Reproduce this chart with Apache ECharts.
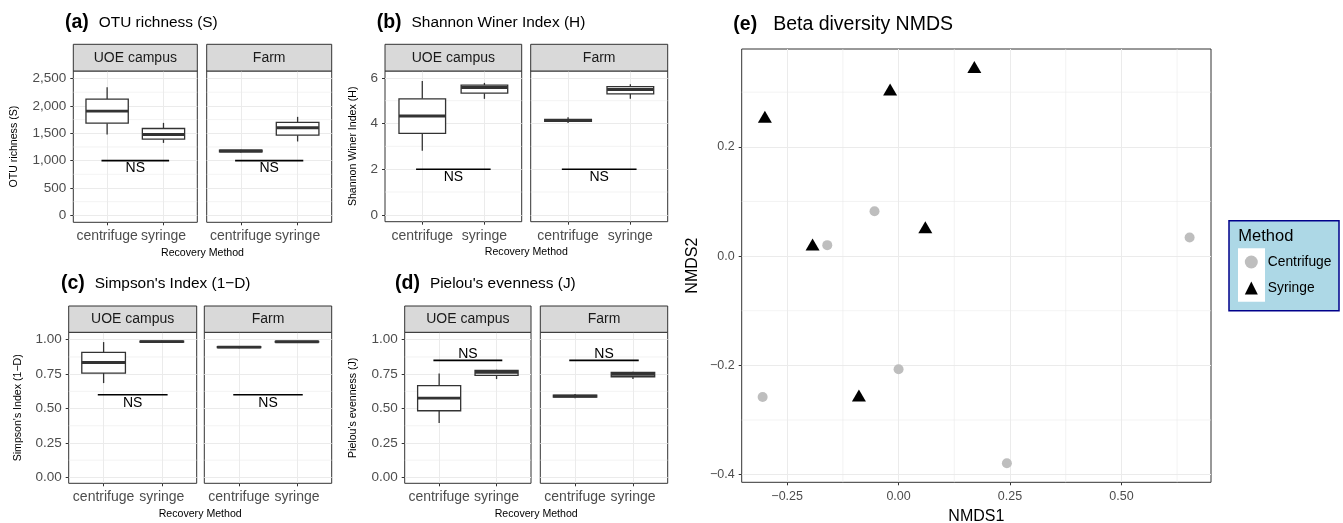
<!DOCTYPE html>
<html>
<head>
<meta charset="utf-8">
<script src="https://cdn.jsdelivr.net/npm/echarts@6/dist/echarts.min.js"></script>
<style>
  html, body { margin: 0; padding: 0; background: #fff; }
  #chart { width: 1343px; height: 523px; }
</style>
</head>
<body>
<div id="chart"></div>
<script>
// ---- data ----
const methods = ['centrifuge', 'syringe'];
const sites = ['UOE campus', 'Farm'];

// five-number summaries [min, q1, median, q3, max], one row per method
const otuCampus = [[1478, 1685, 1905, 2125, 2339], [1324, 1392, 1478, 1587, 1690]];
const otuFarm = [[1150, 1160, 1175, 1190, 1200], [1350, 1465, 1600, 1698, 1800]];
const shannonCampus = [[2.81, 3.57, 4.33, 5.08, 5.86], [5.08, 5.33, 5.58, 5.68, 5.78]];
const shannonFarm = [[4.02, 4.09, 4.13, 4.18, 4.27], [5.08, 5.30, 5.49, 5.62, 5.72]];
const simpsonCampus = [[0.685, 0.758, 0.835, 0.908, 0.983], [0.978, 0.982, 0.986, 0.990, 0.993]];
const simpsonFarm = [[0.938, 0.942, 0.946, 0.950, 0.954], [0.978, 0.982, 0.985, 0.988, 0.991]];
const pielouCampus = [[0.395, 0.484, 0.576, 0.666, 0.755], [0.714, 0.741, 0.763, 0.777, 0.782]];
const pielouFarm = [[0.575, 0.583, 0.590, 0.597, 0.605], [0.714, 0.731, 0.748, 0.763, 0.768]];

// "NS" bracket level for each panel
const nsLevels = [1000, 2, 0.6, 0.85];

// NMDS scores [NMDS1, NMDS2]
const nmdsCentrifuge = [[-0.160, 0.020], [-0.054, 0.082], [0.000, -0.207], [-0.305, -0.258], [0.243, -0.379], [0.653, 0.034]];
const nmdsSyringe = [[-0.300, 0.255], [-0.019, 0.305], [0.170, 0.346], [-0.193, 0.021], [0.060, 0.053], [-0.089, -0.255]];

// tick labels / grid breaks
const otuTicks = [0, 500, 1000, 1500, 2000, 2500];
const otuMinor = [250, 750, 1250, 1750, 2250];
const shannonTicks = [0, 2, 4, 6];
const shannonMinor = [1, 3, 5];
const unitTicks = [0, 0.25, 0.5, 0.75, 1];
const unitMinor = [0.125, 0.375, 0.625, 0.875];
const nmdsXTicks = [-0.25, 0, 0.25, 0.5];
const nmdsXMinor = [-0.125, 0.125, 0.375, 0.625];
const nmdsYTicks = [-0.4, -0.2, 0, 0.2];
const nmdsYMinor = [-0.3, -0.1, 0.1, 0.3];

// ---- layout ----
const FONT = '"Liberation Sans", Arial, Helvetica, sans-serif';
const DARK = '#333333';
const GRID = '#EBEBEB';
const TICK_TXT = '#4D4D4D';

const comma = v => String(v).replace(/\B(?=(\d{3})+(?!\d))/g, ',');
const minus = s => s.replace('-', '\u2212');

const boxPanels = [
  { tag: '(a)', title: 'OTU richness (S)', yName: 'OTU richness (S)', data: [otuCampus, otuFarm],
    ns: nsLevels[0], nsAbove: false, ticks: otuTicks, minor: otuMinor, min: -127, max: 2638, fmt: comma,
    cols: [[73.3, 197.3], [206.7, 331.7]], stripTop: 44.3, top: 71, bottom: 222.3,
    tagPos: [65, 22.5], xTitle: [202.5, 253.3], nameGap: 54, gap: 10 },
  { tag: '(b)', title: 'Shannon Winer Index (H)', yName: 'Shannon Winer Index (H)', data: [shannonCampus, shannonFarm],
    ns: nsLevels[1], nsAbove: false, ticks: shannonTicks, minor: shannonMinor, min: -0.3, max: 6.3, fmt: v => String(v),
    cols: [[385, 521.7], [530.7, 667.7]], stripTop: 44.3, top: 71, bottom: 221.7,
    tagPos: [376.7, 22.7], xTitle: [526.3, 252.3], nameGap: 26, gap: 10 },
  { tag: '(c)', title: 'Simpson\'s Index (1\u2212D)', yName: 'Simpson\'s Index (1\u2212D)', data: [simpsonCampus, simpsonFarm],
    ns: nsLevels[2], nsAbove: false, ticks: unitTicks, minor: unitMinor, min: -0.043, max: 1.054, fmt: v => v.toFixed(2),
    cols: [[68.7, 196.7], [204.3, 331.7]], stripTop: 306, top: 332.3, bottom: 483.3,
    tagPos: [61, 283.3], xTitle: [200.2, 514.3], nameGap: 45, gap: 10 },
  { tag: '(d)', title: 'Pielou\'s evenness (J)', yName: 'Pielou\'s evenness (J)', data: [pielouCampus, pielouFarm],
    ns: nsLevels[3], nsAbove: true, ticks: unitTicks, minor: unitMinor, min: -0.043, max: 1.054, fmt: v => v.toFixed(2),
    cols: [[404.7, 531], [540.3, 667.7]], stripTop: 306, top: 332.3, bottom: 483.3,
    tagPos: [395, 283.3], xTitle: [536.2, 514.3], nameGap: 46, gap: 10 }
];

function titleItem(tag, text, left, cy, tagSize, textSize, gap) {
  return {
    left: left, top: cy - 12, padding: 0,
    text: '{t|' + tag + '}{n|' + text + '}',
    textStyle: {
      fontWeight: 'normal',
      rich: {
        t: { fontFamily: FONT, fontWeight: 'bold', fontSize: tagSize, lineHeight: 24, color: '#000', padding: [0, gap, 0, 0] },
        n: { fontFamily: FONT, fontWeight: 'normal', fontSize: textSize, lineHeight: 24, color: '#000' }
      }
    }
  };
}

function renderHLine(params, api) {
  const cs = params.coordSys;
  const y = api.coord([api.value(0), api.value(1)])[1];
  return { type: 'line', silent: true, shape: { x1: cs.x, y1: y, x2: cs.x + cs.width, y2: y },
    style: { stroke: GRID, lineWidth: 0.6 } };
}
function renderVLine(params, api) {
  const cs = params.coordSys;
  const x = api.coord([api.value(0), api.value(1)])[0];
  return { type: 'line', silent: true, shape: { x1: x, y1: cs.y, x2: x, y2: cs.y + cs.height },
    style: { stroke: GRID, lineWidth: 0.6 } };
}

function renderBox(params, api) {
  const x = api.value(0);
  const half = 0.375;
  const lo = api.coord([x - half, api.value(2)]);
  const hi = api.coord([x + half, api.value(4)]);
  const wMin = api.coord([x, api.value(1)]);
  const wMax = api.coord([x, api.value(5)]);
  const mL = api.coord([x - half, api.value(3)]);
  const mR = api.coord([x + half, api.value(3)]);
  const s = { stroke: DARK, lineWidth: 1.3 };
  return {
    type: 'group',
    children: [
      { type: 'line', shape: { x1: wMin[0], y1: wMin[1], x2: wMin[0], y2: lo[1] }, style: s },
      { type: 'line', shape: { x1: wMax[0], y1: hi[1], x2: wMax[0], y2: wMax[1] }, style: s },
      { type: 'rect', shape: { x: lo[0], y: hi[1], width: hi[0] - lo[0], height: lo[1] - hi[1] },
        style: { fill: '#fff', stroke: DARK, lineWidth: 1.3 } },
      { type: 'line', shape: { x1: mL[0], y1: mL[1], x2: mR[0], y2: mR[1] }, style: { stroke: DARK, lineWidth: 2.9 } }
    ]
  };
}

function renderNs(params, api) {
  const a = api.coord([api.value(0), api.value(2)]);
  const b = api.coord([api.value(1), api.value(2)]);
  const above = api.value(3) === 1;
  return {
    type: 'group',
    children: [
      { type: 'line', shape: { x1: a[0], y1: a[1], x2: b[0], y2: b[1] }, style: { stroke: '#000', lineWidth: 1.6 } },
      { type: 'text', x: (a[0] + b[0]) / 2, y: a[1] + 1,
        style: { text: 'NS', fill: '#000', font: '14px ' + FONT, align: 'center', verticalAlign: above ? 'bottom' : 'top' } }
    ]
  };
}

const grids = [], xAxes = [], yAxes = [], series = [], titles = [], graphics = [];

boxPanels.forEach(p => {
  titles.push(titleItem(p.tag, p.title, p.tagPos[0], p.tagPos[1], 19.5, 15.4, p.gap));
  titles.push({ text: 'Recovery Method', left: p.xTitle[0], top: p.xTitle[1], textAlign: 'center', textVerticalAlign: 'middle',
    padding: 0, textStyle: { fontFamily: FONT, fontSize: 10.6, fontWeight: 'normal', color: '#000' } });

  sites.forEach((site, f) => {
    const gi = grids.length;
    const x0 = p.cols[f][0], x1 = p.cols[f][1];
    grids.push({ left: x0, top: p.top, width: x1 - x0, height: p.bottom - p.top, outerBoundsMode: 'none',
      show: true, borderColor: DARK, borderWidth: 1, backgroundColor: '#fff' });
    xAxes.push({
      gridIndex: gi, type: 'value', min: 0.4, max: 2.6, position: 'bottom',
      axisLine: { show: false, onZero: false },
      axisTick: { show: true, customValues: [1, 2], length: 3, lineStyle: { color: DARK } },
      axisLabel: { customValues: [1, 2], formatter: v => methods[Math.round(v) - 1], margin: 7,
        fontFamily: FONT, fontSize: 14, color: TICK_TXT },
      splitLine: { show: true, lineStyle: { color: GRID, width: 1 } }
    });
    yAxes.push({
      gridIndex: gi, type: 'value', min: p.min, max: p.max, position: 'left',
      name: f === 0 ? p.yName : '', nameLocation: 'middle', nameRotate: 90, nameGap: p.nameGap,
      nameTextStyle: { fontFamily: FONT, fontSize: 10.6, color: '#000' },
      axisLine: { show: false, onZero: false },
      axisTick: { show: f === 0, customValues: p.ticks, length: 3, lineStyle: { color: DARK } },
      axisLabel: { show: f === 0, customValues: p.ticks, formatter: p.fmt, margin: 7,
        fontFamily: FONT, fontSize: 13.5, color: TICK_TXT },
      splitLine: { show: true, lineStyle: { color: GRID, width: 1 } }
    });
    series.push({ type: 'custom', xAxisIndex: gi, yAxisIndex: gi, z: 1, silent: true,
      renderItem: renderHLine, encode: { x: 0, y: 1 }, data: p.minor.map(v => [1, v]) });
    series.push({ type: 'custom', xAxisIndex: gi, yAxisIndex: gi, z: 3, silent: true,
      renderItem: renderBox, encode: { x: 0, y: [1, 2, 3, 4, 5] },
      data: p.data[f].map((s, i) => [i + 1].concat(s)) });
    series.push({ type: 'custom', xAxisIndex: gi, yAxisIndex: gi, z: 4, silent: true,
      renderItem: renderNs, encode: { x: [0, 1], y: 2 },
      data: [[0.9, 2.1, p.ns, p.nsAbove ? 1 : 0]] });

    graphics.push({ type: 'rect', z: 10, shape: { x: x0, y: p.stripTop, width: x1 - x0, height: p.top - p.stripTop },
      style: { fill: '#D9D9D9', stroke: DARK, lineWidth: 1 } });
    graphics.push({ type: 'text', z: 11, x: (x0 + x1) / 2, y: (p.stripTop + p.top) / 2,
      style: { text: site, fill: '#1A1A1A', font: '14px ' + FONT, align: 'center', verticalAlign: 'middle',
        textAlign: 'center', textVerticalAlign: 'middle' } });
  });
});

// ---- panel (e): NMDS ----
titles.push(titleItem('(e)', 'Beta diversity NMDS', 733.3, 24.3, 19.5, 19.5, 16));
const ge = grids.length;
grids.push({ left: 741.7, top: 49, width: 1211 - 741.7, height: 482.3 - 49, outerBoundsMode: 'none',
  show: true, borderColor: DARK, borderWidth: 1, backgroundColor: '#fff' });
xAxes.push({
  gridIndex: ge, type: 'value', min: -0.352, max: 0.701, position: 'bottom',
  name: 'NMDS1', nameLocation: 'middle', nameGap: 25,
  nameTextStyle: { fontFamily: FONT, fontSize: 16, color: '#000' },
  axisLine: { show: false, onZero: false },
  axisTick: { customValues: nmdsXTicks, length: 3, lineStyle: { color: DARK } },
  axisLabel: { customValues: nmdsXTicks, formatter: v => minus(v.toFixed(2)), margin: 8,
    fontFamily: FONT, fontSize: 12.5, color: TICK_TXT },
  splitLine: { show: true, lineStyle: { color: GRID, width: 1 } }
});
yAxes.push({
  gridIndex: ge, type: 'value', min: -0.414, max: 0.379, position: 'left',
  name: 'NMDS2', nameLocation: 'middle', nameRotate: 90, nameGap: 41,
  nameTextStyle: { fontFamily: FONT, fontSize: 16, color: '#000' },
  axisLine: { show: false, onZero: false },
  axisTick: { customValues: nmdsYTicks, length: 3, lineStyle: { color: DARK } },
  axisLabel: { customValues: nmdsYTicks, formatter: v => minus(v.toFixed(1)), margin: 7,
    fontFamily: FONT, fontSize: 12.5, color: TICK_TXT },
  splitLine: { show: true, lineStyle: { color: GRID, width: 1 } }
});
series.push({ type: 'custom', xAxisIndex: ge, yAxisIndex: ge, z: 1, silent: true,
  renderItem: renderHLine, encode: { x: 0, y: 1 }, data: nmdsYMinor.map(v => [0, v]) });
series.push({ type: 'custom', xAxisIndex: ge, yAxisIndex: ge, z: 1, silent: true,
  renderItem: renderVLine, encode: { x: 0, y: 1 }, data: nmdsXMinor.map(v => [v, 0]) });
series.push({ name: 'Centrifuge', type: 'scatter', xAxisIndex: ge, yAxisIndex: ge, z: 3,
  symbol: 'circle', symbolSize: 10, itemStyle: { color: '#BEBEBE', opacity: 1 }, data: nmdsCentrifuge });
series.push({ name: 'Syringe', type: 'scatter', xAxisIndex: ge, yAxisIndex: ge, z: 3,
  symbol: 'triangle', symbolSize: [14, 12], itemStyle: { color: '#000', opacity: 1 }, data: nmdsSyringe });

// legend box
graphics.push({ type: 'rect', z: 0, shape: { x: 1229, y: 220.7, width: 110, height: 90 },
  style: { fill: '#ADD8E6', stroke: '#00008B', lineWidth: 1.5 } });
graphics.push({ type: 'rect', z: 1, shape: { x: 1238, y: 248.3, width: 27, height: 53.4 },
  style: { fill: '#fff' } });
graphics.push({ type: 'text', z: 2, x: 1238.3, y: 236,
  style: { text: 'Method', fill: '#000', font: '16.5px ' + FONT, align: 'left', verticalAlign: 'middle',
    textAlign: 'left', textVerticalAlign: 'middle' } });

const chart = echarts.init(document.getElementById('chart'), null, { renderer: 'canvas' });
chart.setOption({
  animation: false,
  backgroundColor: '#fff',
  title: titles,
  grid: grids,
  xAxis: xAxes,
  yAxis: yAxes,
  legend: {
    orient: 'vertical', left: 1244.8, top: 255, padding: 0, itemWidth: 13, itemHeight: 13, itemGap: 12,
    selectedMode: false, z: 20,
    textStyle: { fontFamily: FONT, fontSize: 13.8, color: '#000', padding: [0, 0, 0, 5] },
    data: ['Centrifuge', 'Syringe']
  },
  graphic: { elements: graphics },
  series: series
});
</script>
</body>
</html>
